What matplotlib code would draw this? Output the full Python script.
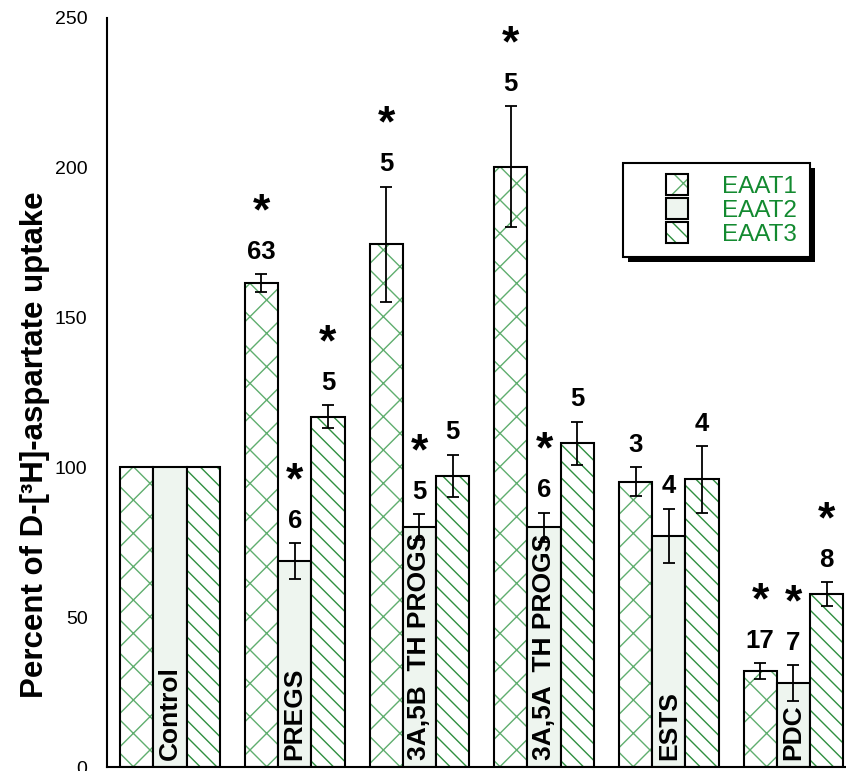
import numpy as np
from matplotlib import pyplot as plt
from matplotlib.patches import Patch, Rectangle

plt.rcParams['font.family'] = ['Liberation Sans', 'DejaVu Sans']

groups = ['Control', 'PREGS', '3A,5B  TH PROGS', '3A,5A  TH PROGS', 'ESTS', 'PDC']
series = ['EAAT1', 'EAAT2', 'EAAT3']

eaat1 = [100, 161.4, 174.5, 200.3, 95.2, 32.0]
eaat1_err = [0, 3.0, 19.2, 20.2, 4.9, 2.7]
eaat2 = [100, 68.8, 80.1, 80.0, 77.1, 27.9]
eaat2_err = [0, 5.9, 4.2, 4.9, 9.1, 6.0]
eaat3 = [100, 116.9, 97.2, 108.0, 96.0, 57.6]
eaat3_err = [0, 3.8, 7.0, 7.3, 11.1, 4.0]

# number of experiments written above each bar
n1 = ['', '63', '5', '5', '3', '17']
n2 = ['', '6', '5', '6', '4', '7']
n3 = ['', '5', '5', '5', '4', '8']
# significance stars
star1 = [0, 1, 1, 1, 0, 1]
star2 = [0, 1, 1, 1, 0, 1]
star3 = [0, 1, 0, 0, 0, 1]

vals = [eaat1, eaat2, eaat3]
errs = [eaat1_err, eaat2_err, eaat3_err]
ns = [n1, n2, n3]
stars = [star1, star2, star3]

greens = ['#5fae6e', '#2f8f3f', '#2f8f3f']
pale = '#eef5ef'
hatches = ['x', '', '\\\\']
fills = ['white', pale, 'white']

fig = plt.figure(figsize=(8.46, 7.71), dpi=100)
ax = fig.add_axes([107 / 846, 4 / 771, 739 / 846, 749 / 771])

x = np.arange(len(groups)) * 3.75
for k in range(3):
    pos = x + (k - 1)
    v = np.array(vals[k])
    e = np.array(errs[k])
    ax.bar(pos, v, 1.0, color=fills[k], edgecolor=greens[k], hatch=hatches[k], linewidth=0)
    ax.bar(pos, v, 1.0, fill=False, edgecolor='black', linewidth=1.5)
    has = e > 0
    ax.errorbar(pos[has], v[has], yerr=e[has], fmt='none', ecolor='black',
                elinewidth=1.3, capsize=4.5, capthick=1.3)
    for i in range(len(groups)):
        top = v[i] + e[i]
        if ns[k][i]:
            ax.text(pos[i], top + 7.5, ns[k][i], ha='center', va='center',
                    fontsize=18.5, fontweight='bold')
        if stars[k][i]:
            ax.text(pos[i], top + 20.5, '*', ha='center', va='center',
                    fontsize=32, fontweight='bold')

for i in range(len(groups)):
    ax.text(x[i], 2.5, groups[i], rotation=90, ha='center', va='bottom',
            fontsize=19, fontweight='bold')

ax.set_xlim(-1.895, 20.33)
ax.set_ylim(0, 250)
ax.set_xticks([])
ax.set_yticks(range(0, 251, 50))
ax.tick_params(axis='y', length=0, pad=14, labelsize=14)
ax.spines['top'].set_visible(False)
ax.spines['right'].set_visible(False)
ax.spines['left'].set_linewidth(1.5)
ax.spines['bottom'].set_linewidth(1.5)
ax.set_ylabel('Percent of D-[³H]-aspartate uptake', fontsize=22.5, fontweight='bold')
ax.yaxis.set_label_coords(-0.077, 0.43)

# legend box with drop shadow
fig.patches.append(Rectangle((628 / 846, (771 - 262) / 771), 187 / 846, 94 / 771,
                             transform=fig.transFigure, facecolor='black', zorder=5))
fig.patches.append(Rectangle((623 / 846, (771 - 257) / 771), 187 / 846, 94 / 771,
                             transform=fig.transFigure, facecolor='white',
                             edgecolor='black', linewidth=1.5, zorder=6))
handles = []
for k in range(3):
    handles.append((Patch(facecolor=fills[k], edgecolor=greens[k], hatch=hatches[k], linewidth=0),
                    Patch(facecolor='none', edgecolor='black', linewidth=1.5)))
leg = fig.legend(handles, series, loc='upper left', bbox_to_anchor=(666 / 846, (771 - 174) / 771),
                 bbox_transform=fig.transFigure, frameon=False, fontsize=17.5,
                 labelcolor='#138a30', handlelength=0.9, handleheight=0.95,
                 labelspacing=0.0, handletextpad=1.4, borderpad=0, borderaxespad=0)
leg.set_zorder(7)

plt.savefig('out.png', dpi=100)
